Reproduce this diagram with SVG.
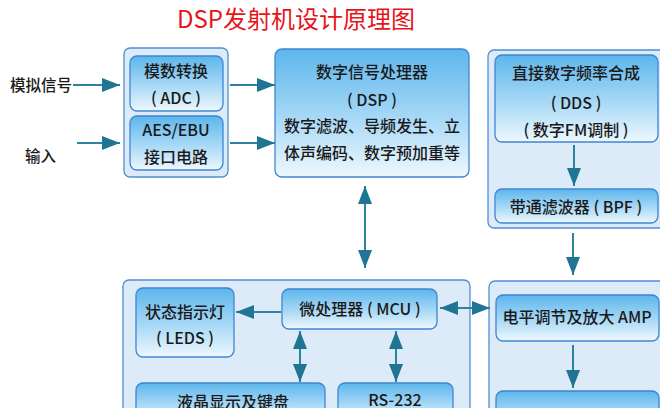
<svg xmlns="http://www.w3.org/2000/svg" width="660" height="408" viewBox="0 0 660 408">
<defs>
<linearGradient id="g" x1="0" y1="0" x2="0" y2="1">
<stop offset="0" stop-color="#5cb6ec"/>
<stop offset="0.55" stop-color="#a9d9f6"/>
<stop offset="1" stop-color="#eef8fe"/>
</linearGradient>
<marker id="a" viewBox="0 0 18 14" refX="18" refY="7" markerWidth="18" markerHeight="14" markerUnits="userSpaceOnUse" orient="auto-start-reverse">
<path d="M0,0 L18,7 L0,14 z" fill="#1f7592"/>
</marker>
</defs>
<style>
.outer{fill:#dcebf7;stroke:#4f8fd6;stroke-width:1.3}
.inner{fill:url(#g);stroke:#3f86d3;stroke-width:1.3}
text{font-family:"Microsoft YaHei","Noto Sans CJK SC","Noto Sans",sans-serif;font-size:16px;font-weight:500;fill:#1a1a1a;text-anchor:middle}
.lbl{text-anchor:start;font-size:15.5px}
.title{font-size:24px;font-weight:400;fill:#e6141b}
.c{stroke:#2d82a0;stroke-width:2;fill:none}
</style>
<rect width="660" height="408" fill="#ffffff"/>
<text class="title" x="296" y="28">DSP发射机设计原理图</text>

<g id="input-analog"><text class="lbl" x="10" y="91">模拟信号</text></g>
<g id="input-digital"><text class="lbl" x="25" y="162">输入</text></g>

<g id="left-group">
<rect class="outer" x="124" y="48" width="104" height="129" rx="6"/>
</g>
<g id="adc">
<rect class="inner" x="130" y="56" width="93" height="55" rx="7"/>
<text x="176" y="77">模数转换</text>
<text x="176" y="104">( ADC )</text>
</g>
<g id="aes">
<rect class="inner" x="130" y="116" width="93" height="54" rx="7"/>
<text x="176" y="136">AES/EBU</text>
<text x="176" y="163">接口电路</text>
</g>

<g id="dsp">
<rect class="inner" x="275" y="49" width="194" height="128" rx="7"/>
<text x="372" y="78">数字信号处理器</text>
<text x="372" y="106">( DSP )</text>
<text x="372" y="132">数字滤波、导频发生、立</text>
<text x="372" y="159">体声编码、数字预加重等</text>
</g>

<g id="right-top-group">
<rect class="outer" x="488" y="50" width="180" height="178" rx="6"/>
</g>
<g id="dds">
<rect class="inner" x="495" y="55" width="163" height="87" rx="7"/>
<text x="576" y="79">直接数字频率合成</text>
<text x="576" y="109">( DDS )</text>
<text x="576" y="136">( 数字FM调制 )</text>
</g>
<g id="bpf">
<rect class="inner" x="495" y="189" width="163" height="34" rx="7"/>
<text x="576" y="213">带通滤波器 ( BPF )</text>
</g>

<g id="right-bottom-group">
<rect class="outer" x="489" y="281" width="180" height="140" rx="6"/>
</g>
<g id="amp">
<rect class="inner" x="496" y="295" width="163" height="46" rx="7"/>
<text x="577" y="323">电平调节及放大 AMP</text>
</g>
<g id="out-box">
<rect class="inner" x="496" y="391" width="163" height="40" rx="7"/>
</g>

<g id="left-bottom-group">
<rect class="outer" x="123" y="280" width="347" height="141" rx="6"/>
</g>
<g id="leds">
<rect class="inner" x="136" y="288" width="98" height="69" rx="7"/>
<text x="185" y="318">状态指示灯</text>
<text x="185" y="344">( LEDS )</text>
</g>
<g id="mcu">
<rect class="inner" x="282" y="289" width="155" height="40" rx="7"/>
<text x="360" y="315">微处理器 ( MCU )</text>
</g>
<g id="lcd">
<rect class="inner" x="136" y="383" width="189" height="40" rx="7"/>
<text x="233" y="408">液晶显示及键盘</text>
</g>
<g id="rs232">
<rect class="inner" x="338" y="383" width="115" height="40" rx="7"/>
<text x="395" y="406">RS-232</text>
</g>

<g id="connectors">
<line class="c" x1="73" y1="85" x2="120" y2="85" marker-end="url(#a)"/>
<line class="c" x1="77" y1="143" x2="120" y2="143" marker-end="url(#a)"/>
<line class="c" x1="230" y1="85" x2="275" y2="85" marker-end="url(#a)"/>
<line class="c" x1="230" y1="143" x2="275" y2="143" marker-end="url(#a)"/>
<line class="c" x1="365" y1="186" x2="365" y2="268" marker-start="url(#a)" marker-end="url(#a)"/>
<line class="c" x1="574" y1="145" x2="574" y2="186" marker-end="url(#a)"/>
<line class="c" x1="573" y1="233" x2="573" y2="275" marker-end="url(#a)"/>
<line class="c" x1="573" y1="345" x2="573" y2="388" marker-end="url(#a)"/>
<line class="c" x1="281" y1="312" x2="236" y2="312" marker-end="url(#a)"/>
<line class="c" x1="440" y1="308" x2="490" y2="308" marker-start="url(#a)" marker-end="url(#a)"/>
<line class="c" x1="300" y1="331" x2="300" y2="382" marker-start="url(#a)" marker-end="url(#a)"/>
<line class="c" x1="396" y1="331" x2="396" y2="382" marker-start="url(#a)" marker-end="url(#a)"/>
</g>
</svg>
